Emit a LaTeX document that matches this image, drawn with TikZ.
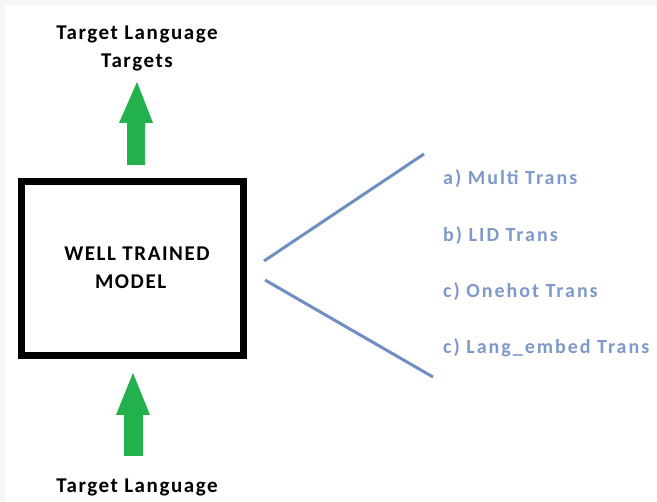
\documentclass[tikz,border=0pt]{standalone}
\usepackage{fontspec}
\setmainfont{Carlito}
\newfontfamily\blackfont[LetterSpace=7.5]{Carlito}
\newfontfamily\bluefont[LetterSpace=10]{Carlito}
\definecolor{bgrey}{HTML}{F6F6F6}
\definecolor{arrgreen}{HTML}{22B14C}
\definecolor{linblue}{HTML}{6F8FC4}
\definecolor{txtblue}{HTML}{7E9ACB}
\begin{document}
\begin{tikzpicture}[x=1pt,y=-1pt,
  blacktext/.style={font=\blackfont\bfseries\fontsize{21}{28}\selectfont, text=black, align=center, inner sep=0pt},
  bluetext/.style={font=\bluefont\bfseries\fontsize{20}{22}\selectfont, text=txtblue, anchor=west, inner sep=0pt},
  greenarrow/.style={fill=arrgreen, draw=none},
  branch/.style={draw=linblue, line width=3pt}]
\useasboundingbox (0,0) rectangle (657,502);
\fill[bgrey] (0,0) rectangle (657,502);
\fill[white] (5,5) rectangle (657,502);
% top label
\node[blacktext] (toplabel) at (137,48) {Target Language\\Targets};
% top arrow
\fill[greenarrow] (137,82) -- (153,123) -- (145,123) -- (145,165) -- (127,165) -- (127,123) -- (119,123) -- cycle;
% box
\node[draw=black, line width=7pt, minimum width=222pt, minimum height=174pt, inner sep=0pt] (box) at (132.5,268.5) {};
\node[blacktext] (model) at (137,268) {WELL TRAINED\\MODEL\hphantom{~~}};
% bottom arrow
\fill[greenarrow] (133,373) -- (150,415) -- (143,415) -- (143,456) -- (124,456) -- (124,415) -- (116,415) -- cycle;
\node[blacktext] (botlabel) at (137,487) {Target Language};
% branches
\coordinate (u0) at (264,261);
\coordinate (u1) at (424,154);
\coordinate (l0) at (265,280);
\coordinate (l1) at (433,377);
\draw[branch] (u0) -- (u1);
\draw[branch] (l0) -- (l1);
% labels
\node[bluetext] (la) at (443,179) {a) Multi Trans};
\node[bluetext] (lb) at (443,236) {b) LID Trans};
\node[bluetext] (lc) at (443,292) {c) Onehot Trans};
\node[bluetext] (ld) at (443,348) {c) Lang\_embed Trans};
\end{tikzpicture}
\end{document}
